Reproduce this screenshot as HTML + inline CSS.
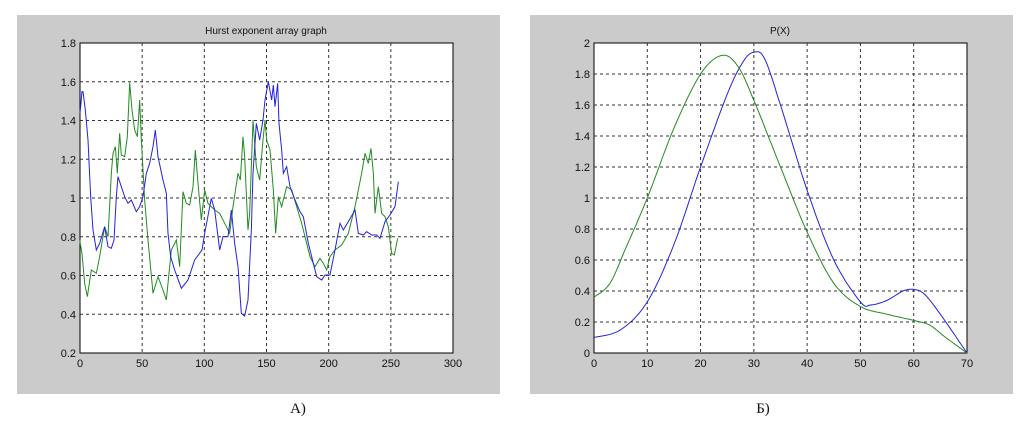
<!DOCTYPE html>
<html><head><meta charset="utf-8"><style>
body{margin:0;background:#fff;width:1029px;height:425px;overflow:hidden}
svg{display:block}
text{font-family:"Liberation Sans",sans-serif;font-size:11px;fill:#111}
.g{stroke:#333;stroke-width:1;stroke-dasharray:3,3}
.ln{fill:none;stroke-width:1;vector-effect:non-scaling-stroke}
</style></head><body>
<svg id="s" width="1029" height="425" xmlns="http://www.w3.org/2000/svg">
<rect x="17" y="15" width="483" height="379" fill="#cbcbcb"/>
<rect x="530" y="15" width="483" height="379" fill="#cbcbcb"/>
<rect x="80" y="43" width="373" height="310" fill="#fff" stroke="#000"/>
<rect x="594" y="43" width="373" height="310" fill="#fff" stroke="#000"/>
<g id="grid"></g>
<g transform="translate(78,40) scale(0.33333)">
<polyline class="ln" stroke="#228b22" points="5,600 12,640 20,730 28,770 40,690 55,700 65,650 80,560 90,590 100,400 105,340 112,320 118,400 125,280 130,345 140,350 148,290 155,128 162,210 170,270 178,290 185,180 190,300 200,480 210,600 225,760 240,710 255,750 265,780 280,630 295,600 305,680 315,455 325,490 335,495 345,440 352,330 360,430 370,540 380,450 390,490 410,510 425,520 440,550 455,580 465,500 480,400 487,420 495,290 500,350 510,570 515,520 525,240 535,380 545,420 555,300 561,240"/>
<polyline class="ln" stroke="#2222dd" points="6,220 12,155 15,155 22,210 30,300 38,470 45,570 55,630 65,610 80,560 90,620 100,625 108,600 115,470 120,410 130,440 140,470 150,490 160,480 175,515 185,500 195,470 205,400 215,370 225,320 232,270 240,350 255,420 265,460 270,580 278,650 290,690 310,745 330,720 350,660 372,630 380,580 400,475 410,510 425,630 435,590 450,590 460,510 470,610 480,680 490,820 500,828 510,780 520,570 525,400 535,250 545,300 555,240 561,180"/>
</g>
<g transform="translate(265,40) scale(0.33333)">
<polyline class="ln" stroke="#228b22" points="0,240 5,300 15,330 25,450 32,580 40,470 50,500 65,440 80,450 95,500 110,550 125,610 135,650 150,680 165,655 175,670 185,690 195,650 210,630 230,615 250,580 270,500 290,400 300,340 310,370 318,325 325,400 330,520 340,440 350,520 360,530 370,560 380,640 388,645 398,595"/>
<polyline class="ln" stroke="#2222dd" points="0,180 10,125 20,180 25,135 30,200 38,130 42,250 50,330 55,400 65,380 75,440 90,480 105,515 115,530 130,610 145,670 155,710 170,720 180,705 195,705 210,630 225,550 235,570 250,545 270,510 280,580 295,585 305,575 320,585 335,585 345,595 360,545 375,525 390,500 400,425"/>
</g>
<g id="rc"></g>
<text x="266" y="34" text-anchor="middle" style="font-size:10px">Hurst exponent array graph</text>
<text x="780" y="34" text-anchor="middle" style="font-size:10px">P(X)</text>
<text x="298" y="413" text-anchor="middle" style="font-family:'Liberation Serif',serif;font-size:15px">А)</text>
<text x="763" y="413" text-anchor="middle" style="font-family:'Liberation Serif',serif;font-size:15px">Б)</text>
</svg>
<script>
const NS="http://www.w3.org/2000/svg",s=document.getElementById('s'),gr=document.getElementById('grid');
function el(t,a,p,txt){const e=document.createElementNS(NS,t);for(const k in a)e.setAttribute(k,a[k]);if(txt!==undefined)e.textContent=txt;(p||s).appendChild(e);return e;}
// left axes
for(let i=0;i<=6;i++){const x=80+i*373/6;if(i>0&&i<6)el('line',{x1:x,x2:x,y1:43,y2:353,class:'g'},gr);el('text',{x:x,y:367,'text-anchor':'middle'},null,String(i*50));}
for(let i=0;i<=8;i++){const y=353-i*310/8;if(i>0&&i<8)el('line',{x1:80,x2:453,y1:y,y2:y,class:'g'},gr);el('text',{x:76,y:y+4,'text-anchor':'end'},null,(i==3?'0.8':(0.2+i*0.2).toFixed(1).replace(/\.0$/,'')).replace('1.0','1'));}
// right axes
for(let i=0;i<=7;i++){const x=594+i*373/7;if(i>0&&i<7)el('line',{x1:x,x2:x,y1:43,y2:353,class:'g'},gr);el('text',{x:x,y:367,'text-anchor':'middle'},null,String(i*10));}
for(let i=0;i<=10;i++){const y=353-i*31;if(i>0&&i<10)el('line',{x1:594,x2:967,y1:y,y2:y,class:'g'},gr);let v=+(i*0.2).toFixed(1);el('text',{x:590,y:y+4,'text-anchor':'end'},null,String(v));}
function curve(pts,col){const P=pts.map(p=>[594+p[0]*373/70,353-p[1]*155]);let out=[];for(let i=0;i<P.length-1;i++){const p0=P[Math.max(0,i-1)],p1=P[i],p2=P[i+1],p3=P[Math.min(P.length-1,i+2)];for(let t=0;t<1;t+=0.1){const t2=t*t,t3=t2*t;const f=(a,b,c,d)=>0.5*((2*b)+(-a+c)*t+(2*a-5*b+4*c-d)*t2+(-a+3*b-3*c+d)*t3);out.push(f(p0[0],p1[0],p2[0],p3[0]).toFixed(1)+','+f(p0[1],p1[1],p2[1],p3[1]).toFixed(1));}}out.push(P[P.length-1].join(','));el('polyline',{points:out.join(' '),fill:'none',stroke:col,'stroke-width':1},document.getElementById('rc'));}
curve([[0,0.1],[5,0.15],[10,0.33],[15,0.7],[20,1.2],[25,1.67],[28,1.88],[30,1.94],[32,1.9],[35,1.6],[40,1.05],[45,0.6],[50,0.33],[52,0.31],[55,0.34],[58,0.4],[60,0.41],[62,0.38],[65,0.25],[70,0]],'#2222dd');
curve([[0,0.36],[3,0.45],[6,0.68],[10,1.0],[15,1.45],[20,1.8],[24,1.92],[27,1.85],[30,1.63],[35,1.2],[40,0.78],[45,0.45],[50,0.3],[55,0.25],[60,0.21],[63,0.18],[66,0.1],[70,0]],'#228b22');
</script>
</body></html>
